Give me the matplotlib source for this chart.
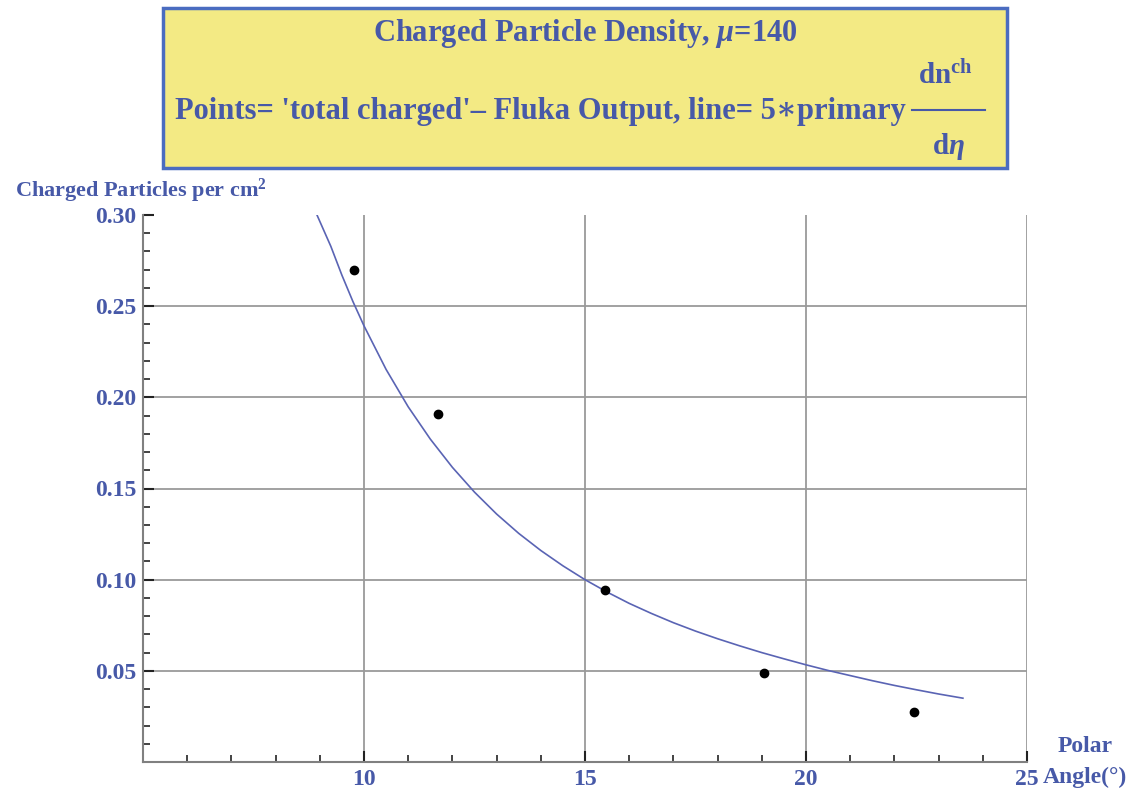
import matplotlib
matplotlib.use("Agg")
import matplotlib.pyplot as plt
from matplotlib.patches import Rectangle
from matplotlib.lines import Line2D
from matplotlib.ticker import MultipleLocator, FixedLocator

plt.rcParams['font.family'] = ['Liberation Serif', 'DejaVu Serif']
plt.rcParams['font.weight'] = 'bold'
plt.rcParams['mathtext.fontset'] = 'custom'
plt.rcParams['mathtext.rm'] = 'Liberation Serif:bold'
plt.rcParams['mathtext.it'] = 'Liberation Serif:italic:bold'
plt.rcParams['mathtext.bf'] = 'Liberation Serif:bold'

# Data
point_angle = [9.77, 11.67, 15.45, 19.05, 22.45]
point_density = [0.270, 0.191, 0.0945, 0.049, 0.0273]

line_angle = [8.9, 9.25, 9.5, 9.75, 10, 10.5, 11, 11.5, 12, 12.5, 13, 13.5, 14, 14.5,
              15, 15.5, 16, 16.5, 17, 17.5, 18, 18.5, 19, 19.5, 20, 20.5, 21, 21.5,
              22, 22.5, 23, 23.55]
line_density = [0.302, 0.2828, 0.267, 0.2525, 0.2392, 0.2153, 0.1948, 0.1771, 0.1616,
                0.1480, 0.1360, 0.1254, 0.1160, 0.1076, 0.1000, 0.0932, 0.0870, 0.0815,
                0.0764, 0.0718, 0.0676, 0.0637, 0.0600, 0.0566, 0.0533, 0.0502, 0.0474,
                0.0446, 0.0420, 0.0396, 0.0373, 0.0350]

x_ticks = [10, 15, 20, 25]
x_tick_labels = ['10', '15', '20', '25']
y_ticks = [0.05, 0.10, 0.15, 0.20, 0.25, 0.30]
y_tick_labels = ['0.05', '0.10', '0.15', '0.20', '0.25', '0.30']

title_line1 = r'Charged Particle Density, $\mu$=140'
title_line2 = "Points= 'total charged'\u2013 Fluka Output, line= 5\u2217primary"

blue_text = '#4759a8'
grid_col = '#9a9a9a'

fig = plt.figure(figsize=(11.3, 7.92), dpi=100)
ax = fig.add_axes([143/1130, 30/792, (1027-143)/1130, (762-215)/792])

ax.plot(line_angle, line_density, color='#5a64b4', lw=1.2, zorder=3)
ax.plot(point_angle, point_density, 'o', color='black', ms=6, zorder=4)

ax.set_xlim(5, 25)
ax.set_ylim(0, 0.30)
ax.xaxis.set_major_locator(FixedLocator(x_ticks))
ax.set_xticklabels(x_tick_labels)
ax.yaxis.set_major_locator(FixedLocator(y_ticks))
ax.set_yticklabels(y_tick_labels)
ax.xaxis.set_minor_locator(MultipleLocator(1))
ax.yaxis.set_minor_locator(MultipleLocator(0.01))
ax.grid(True, which='major', color=grid_col, lw=1.3)
ax.set_axisbelow(True)
# no gridline along the top (0.30)
ax.yaxis.get_gridlines()[-1].set_visible(False)

for s in ['top', 'right']:
    ax.spines[s].set_visible(False)
for s in ['left', 'bottom']:
    ax.spines[s].set_color('#808080')
    ax.spines[s].set_linewidth(1.5)

ax.tick_params(which='major', direction='in', length=8, width=1.5, color='#222222',
               labelcolor=blue_text, labelsize=17, pad=5)
ax.tick_params(which='minor', direction='in', length=5, width=1.2, color='#222222')
for lab in ax.get_xticklabels() + ax.get_yticklabels():
    lab.set_fontweight('bold')

fig.text(15/1130, 1-191/792, r'Charged Particles per cm$^{2}$', color=blue_text,
         fontsize=16, fontweight='bold', ha='left', va='center')
fig.text(1085/1130, 1-746/792, 'Polar', color=blue_text, fontsize=17,
         fontweight='bold', ha='center', va='center')
fig.text(1043/1130, 1-777/792, 'Angle(\u00b0)', color=blue_text, fontsize=17,
         fontweight='bold', ha='left', va='center')

# Title box
box = Rectangle((163/1130, 1-168/792), (1007-163)/1130, (168-8)/792,
                transform=fig.transFigure, facecolor='#f3ea84', edgecolor='#4a6cc0',
                lw=2.5, zorder=0)
fig.patches.append(box)
fig.text(585/1130, 1-33/792, title_line1, color=blue_text, fontsize=22,
         fontweight='bold', ha='center', va='center')
fig.text(175/1130, 1-112/792, title_line2, color=blue_text, fontsize=22,
         fontweight='bold', ha='left', va='center')
fig.text(945/1130, 1-76/792, r'dn$^{\mathrm{ch}}$', color=blue_text, fontsize=21,
         fontweight='bold', ha='center', va='center')
fig.lines.append(Line2D([912/1130, 985/1130], [1-110/792, 1-110/792],
                        transform=fig.transFigure, color=blue_text, lw=1.5))
fig.text(948/1130, 1-146/792, r'd$\eta$', color=blue_text, fontsize=21,
         fontweight='bold', ha='center', va='center')

fig.savefig('out.png', dpi=100)
